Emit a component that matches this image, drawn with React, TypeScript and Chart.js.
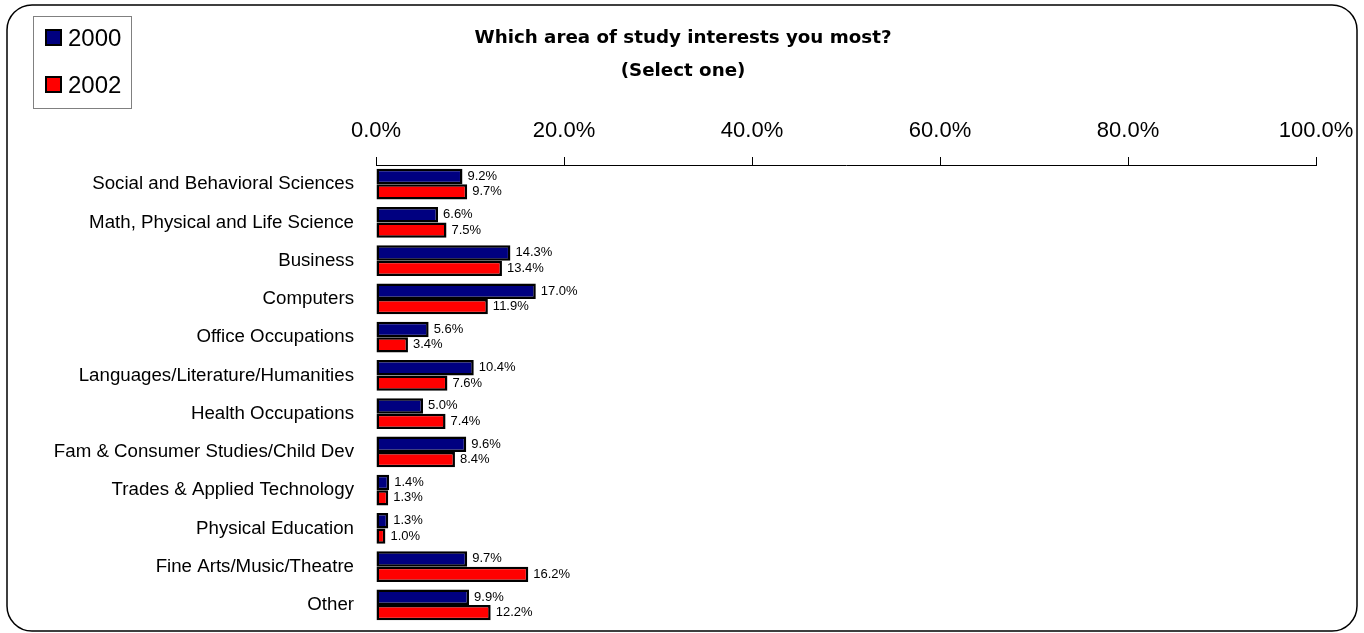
import React, { useEffect, useRef } from "react";
import { Chart, registerables } from "chart.js";

Chart.register(...registerables);

const categories = [
  "Social and Behavioral Sciences",
  "Math, Physical and Life Science",
  "Business",
  "Computers",
  "Office Occupations",
  "Languages/Literature/Humanities",
  "Health Occupations",
  "Fam & Consumer Studies/Child Dev",
  "Trades & Applied Technology",
  "Physical Education",
  "Fine Arts/Music/Theatre",
  "Other",
];
const values2000 = [9.2, 6.6, 14.3, 17.0, 5.6, 10.4, 5.0, 9.6, 1.4, 1.3, 9.7, 9.9];
const values2002 = [9.7, 7.5, 13.4, 11.9, 3.4, 7.6, 7.4, 8.4, 1.3, 1.0, 16.2, 12.2];
const seriesLabels = ["2000", "2002"];
const titleLines = ["Which area of study interests you most?", "(Select one)"];
const xTicks = [0, 20, 40, 60, 80, 100];

const COLORS = ["#000080", "#FF0000"];
const ARIAL = "Arial, 'Liberation Sans', sans-serif";

const decor = {
  id: "decor",
  afterDatasetsDraw(chart: any) {
    const ctx = chart.ctx;
    ctx.save();
    ctx.font = `13px ${ARIAL}`;
    ctx.fillStyle = "#000";
    ctx.textBaseline = "middle";
    ctx.textAlign = "left";
    chart.data.datasets.forEach((ds: any, di: number) => {
      const meta = chart.getDatasetMeta(di);
      meta.data.forEach((el: any, i: number) => {
        ctx.fillText(Number(ds.data[i]).toFixed(1) + "%", el.x + 5, el.y);
      });
    });
    ctx.restore();
  },
  afterDraw(chart: any) {
    const ctx = chart.ctx;
    ctx.save();
    // title (stretched horizontally to mimic a wide geometric face)
    ctx.fillStyle = "#000";
    ctx.textAlign = "center";
    ctx.textBaseline = "middle";
    ctx.font = `bold 17px 'DejaVu Sans', sans-serif`;
    const w0 = ctx.measureText(titleLines[0]).width;
    const sx = 417 / w0;
    ctx.save();
    ctx.translate(683, 0);
    ctx.scale(sx, 1);
    ctx.fillText(titleLines[0], 0, 39);
    ctx.fillText(titleLines[1], 0, 72);
    ctx.restore();
    // legend
    ctx.fillStyle = "#fff";
    ctx.fillRect(33, 16, 98, 92);
    ctx.strokeStyle = "#808080";
    ctx.lineWidth = 1;
    ctx.strokeRect(33.5, 16.5, 98, 92);
    const ys = [38, 85];
    seriesLabels.forEach((lab, i) => {
      ctx.fillStyle = "#000";
      ctx.fillRect(45, ys[i] - 9, 17, 17);
      ctx.fillStyle = COLORS[i];
      ctx.fillRect(47, ys[i] - 7, 13, 13);
      ctx.fillStyle = "#000";
      ctx.textAlign = "left";
      ctx.font = `24px ${ARIAL}`;
      ctx.fillText(lab, 68, ys[i] + 1);
    });
    // frame
    ctx.strokeStyle = "#000";
    ctx.lineWidth = 1.5;
    ctx.beginPath();
    (ctx as any).roundRect(7, 5, 1350, 626, 25);
    ctx.stroke();
    ctx.restore();
  },
};

export default function App() {
  const ref = useRef<HTMLCanvasElement>(null);
  useEffect(() => {
    const chart = new Chart(ref.current!, {
      type: "bar",
      data: {
        labels: categories,
        datasets: [
          {
            label: seriesLabels[0],
            data: values2000,
            backgroundColor: COLORS[0],
            borderColor: "#000",
            borderWidth: 2.5,
            borderSkipped: false,
          },
          {
            label: seriesLabels[1],
            data: values2002,
            backgroundColor: COLORS[1],
            borderColor: "#000",
            borderWidth: 2.5,
            borderSkipped: false,
          },
        ],
      },
      options: {
        indexAxis: "y",
        animation: false,
        responsive: false,
        events: [],
        layout: { padding: { top: 0, left: 0, right: 48, bottom: 9 } },
        datasets: { bar: { categoryPercentage: 0.81, barPercentage: 1.0 } },
        plugins: {
          legend: { display: false },
          title: { display: false },
          tooltip: { enabled: false },
        },
        scales: {
          x: {
            position: "top",
            min: 0,
            max: 100,
            afterBuildTicks: (s: any) => {
              s.ticks = xTicks.map((v) => ({ value: v }));
            },
            afterFit: (s: any) => {
              s.height = 165;
              s.paddingLeft = 0;
              s.paddingRight = 0;
            },
            ticks: {
              padding: 13,
              color: "#000",
              font: { size: 22, family: ARIAL },
              maxRotation: 0,
              callback: (v: any) => Number(v).toFixed(1) + "%",
            },
            grid: {
              drawOnChartArea: false,
              drawTicks: true,
              tickLength: 8,
              color: "#000",
            },
            border: { display: true, color: "#000", width: 1 },
          },
          y: {
            afterFit: (s: any) => {
              s.width = 376;
              s.paddingTop = 0;
              s.paddingBottom = 0;
            },
            ticks: {
              padding: 22,
              color: "#000",
              font: { size: 18.7, family: ARIAL },
            },
            grid: { display: false, drawTicks: false },
            border: { display: false },
          },
        },
      },
      plugins: [decor],
    } as any);
    return () => chart.destroy();
  }, []);
  return (
    <div style={{ position: "absolute", left: 0, top: 0, width: 1364, height: 633 }}>
      <canvas ref={ref} width={1364} height={633} style={{ width: 1364, height: 633, display: "block" }} />
    </div>
  );
}
